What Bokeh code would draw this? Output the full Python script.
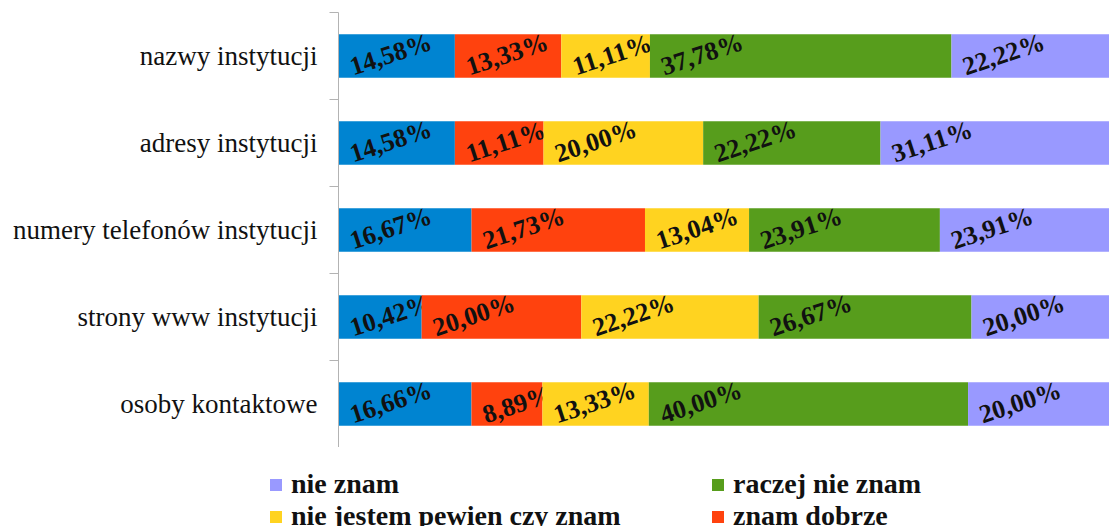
from bokeh.plotting import figure
from bokeh.models import (ColumnDataSource, Range1d, FixedTicker, Legend, LegendItem,
                          LinearAxis)
from bokeh.layouts import column
from bokeh.transform import dodge
from bokeh.core.properties import value
from bokeh.embed import file_html
from bokeh.resources import INLINE
import math

categories = ["nazwy instytucji", "adresy instytucji", "numery telefonów instytucji",
              "strony www instytucji", "osoby kontaktowe"]
series = ["znam bardzo dobrze", "znam dobrze", "nie jestem pewien czy znam",
          "raczej nie znam", "nie znam"]
znam_bardzo_dobrze = [14.58, 14.58, 16.67, 10.42, 16.66]
znam_dobrze = [13.33, 11.11, 21.73, 20.00, 8.89]
nie_jestem_pewien = [11.11, 20.00, 13.04, 22.22, 13.33]
raczej_nie_znam = [37.78, 22.22, 23.91, 26.67, 40.00]
nie_znam = [22.22, 31.11, 23.91, 20.00, 20.00]
colors = ["#0084D1", "#FF420E", "#FFD320", "#579D1C", "#9999FF"]
legend_col1 = ["nie znam", "nie jestem pewien czy znam"]
legend_col2 = ["raczej nie znam", "znam dobrze"]

values = [znam_bardzo_dobrze, znam_dobrze, nie_jestem_pewien, raczej_nie_znam, nie_znam]
n = len(categories)
ypos = [n - 1 - i + 0.5 for i in range(n)]

p = figure(width=1109, height=447, output_backend="svg", toolbar_location=None,
           x_range=Range1d(0, 96.6), y_range=Range1d(0, n),
           x_axis_location=None, y_axis_location=None,
           min_border_left=338, min_border_right=0, min_border_top=12,
           min_border_bottom=0)
p.outline_line_color = None
p.xgrid.visible = False
p.ygrid.visible = False
p.frame_align = False

sources = {}
left = [0.0] * n
for name, vals, col in zip(series, values, colors):
    right = [l + v for l, v in zip(left, vals)]
    src = ColumnDataSource(dict(
        y=ypos, left=left, right=right,
        label=[f"{v:.2f}".replace(".", ",") + "%" for v in vals]))
    sources[name] = src
    p.hbar(y="y", left="left", right="right", height=0.5, source=src,
           fill_color=col, line_color=None)
    p.text(x="left", y=dodge("y", -0.13, range=p.y_range), text="label", source=src,
           x_offset=12, angle=math.radians(18), text_align="left",
           text_baseline="alphabetic", text_font=value("Liberation Serif"),
           text_font_style="bold", text_font_size="26px", text_color="#111111")
    left = right

yaxis = LinearAxis(ticker=FixedTicker(ticks=ypos, minor_ticks=list(range(n + 1))))
yaxis.major_label_overrides = {y: c for y, c in zip(ypos, categories)}
yaxis.axis_line_color = "#b3b3b3"
yaxis.major_tick_line_color = None
yaxis.major_tick_out = 0
yaxis.major_tick_in = 0
yaxis.minor_tick_line_color = "#b3b3b3"
yaxis.minor_tick_out = 9
yaxis.minor_tick_in = 0
yaxis.major_label_standoff = 12
yaxis.major_label_text_font = "Liberation Serif"
yaxis.major_label_text_font_size = "27px"
yaxis.major_label_text_color = "#111111"
p.add_layout(yaxis, "left")

# legend panel below the chart
p2 = figure(width=1109, height=79, output_backend="svg", toolbar_location=None,
            x_range=Range1d(0, 1), y_range=Range1d(0, 1),
            x_axis_location=None, y_axis_location=None,
            min_border_left=0, min_border_right=0, min_border_top=0, min_border_bottom=0)
p2.outline_line_color = None
p2.xgrid.visible = False
p2.ygrid.visible = False
p2.frame_align = False

leg_r = {}
for name, col in zip(series, colors):
    leg_r[name] = p2.hbar(y="y", left="left", right="right", height=0.5,
                          source=sources[name], fill_color=col, line_color=None,
                          visible=False)

def make_legend(names, loc):
    lg = Legend(items=[LegendItem(label=nm, renderers=[leg_r[nm]]) for nm in names],
                location=loc, orientation="vertical")
    lg.padding = 0
    lg.margin = 0
    lg.spacing = 0
    lg.border_line_color = None
    lg.background_fill_alpha = 0
    lg.glyph_width = 15
    lg.glyph_height = 15
    lg.label_standoff = 8
    lg.label_text_font = "Liberation Serif"
    lg.label_text_font_style = "bold"
    lg.label_text_font_size = "28px"
    lg.label_text_color = "#111111"
    return lg

p2.add_layout(make_legend(legend_col1, (268, -6)))
p2.add_layout(make_legend(legend_col2, (710, -6)))

layout = column(p, p2, spacing=0)
open("out.html", "w").write(file_html(layout, INLINE))
